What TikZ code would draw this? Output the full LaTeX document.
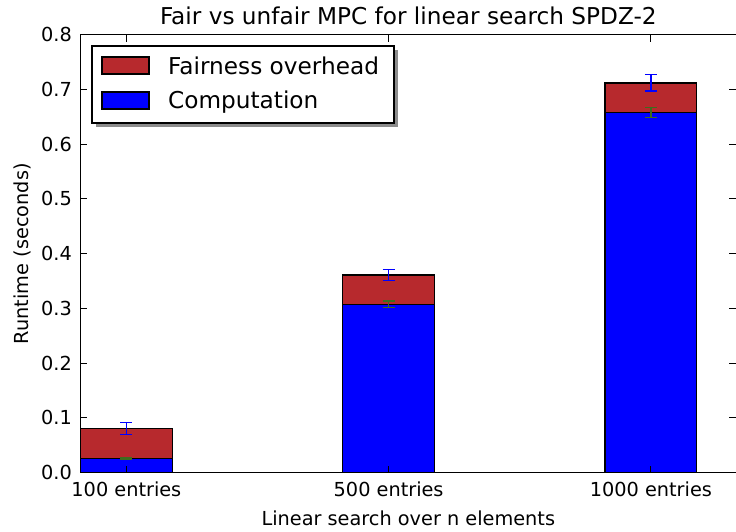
\documentclass[tikz,border=0pt]{standalone}
\usepackage{fontspec}
\setmainfont{DejaVu Sans}
\usepackage{tikz}
\usetikzlibrary{calc}
\definecolor{fairred}{RGB}{183,41,45}
\definecolor{compblue}{RGB}{0,0,255}
\definecolor{errgreen}{RGB}{62,108,30}
\newcommand{\ticksize}{\fontsize{19.3}{23}\selectfont}
\newcommand{\bigsize}{\fontsize{23.2}{28}\selectfont}

\begin{document}
\begin{tikzpicture}[
  x=262.25pt, y=547.5pt,
  spine/.style={line width=1.5pt, draw=black},
  tck/.style={line width=1pt, draw=black},
  barbox/.style={draw=black, line width=1.3pt},
  errbar/.style={line width=1.5pt},
  ticklab/.style={font=\ticksize, inner sep=0pt},
  leglab/.style={font=\bigsize, inner sep=0pt, anchor=base west},
]
  \useasboundingbox (-80.5pt,-58.3pt) rectangle (655.5pt,472.7pt);
  \coordinate (tl) at (0,0.8);
  % stacked bars: computation below, fairness overhead on top
  \foreach \i/\comp/\tot in {0/0.0256/0.0806, 1/0.3076/0.3611, 2/0.658/0.712} {
    \draw[barbox, fill=compblue] (\i,0) rectangle (\i+0.35,\comp);
    \draw[barbox, fill=fairred] (\i,\comp) rectangle (\i+0.35,\tot);
  }
  % error bars
  \foreach \c/\v/\e/\col in {0.175/0.0256/0.001/errgreen, 1.175/0.3076/0.006/errgreen,
                            2.175/0.658/0.009/errgreen, 0.175/0.0806/0.0107/compblue,
                            1.175/0.3611/0.0104/compblue, 2.175/0.712/0.0152/compblue} {
    \draw[errbar, draw=\col] (\c,\v-\e) -- (\c,\v+\e)
      (\c,\v-\e) ++(-6pt,0) -- ++(12pt,0)
      (\c,\v+\e) ++(-6pt,0) -- ++(12pt,0);
  }
  % ticks and tick labels
  \foreach \k in {0,...,8} {
    \draw[tck] (0,\k/10) -- ++(7pt,0);
    \draw[tck] (2.5,\k/10) -- ++(-7pt,0);
    \node[ticklab, anchor=east] (ytick\k) at ($(0,\k/10)+(-8.5pt,0)$) {0.\k};
  }
  \foreach \c/\lab [count=\n] in {0.175/100, 1.175/500, 2.175/1000} {
    \draw[tck] (\c,0) -- ++(0,7pt);
    \draw[tck] (\c,0.8) -- ++(0,-7pt);
    \node[ticklab, anchor=north] (xtick\n) at ($(\c,0)+(0,-9pt)$) {\lab{} entries};
  }
  % axes frame (right edge falls just past the page)
  \draw[spine] (0,0) rectangle (2.51,0.8);
  % labels
  \node[font=\bigsize, inner sep=0pt, anchor=base] (title) at ($(1.25,0.8)+(0,9.7pt)$)
    {Fair vs unfair MPC for linear search SPDZ-2};
  \node[font=\ticksize, inner sep=0pt, anchor=base] (xlab) at ($(1.25,0)+(0,-52.3pt)$)
    {Linear search over n elements};
  \node[font=\ticksize, inner sep=0pt, anchor=base, rotate=90] (ylab) at ($(0,0.4)+(-52pt,0)$)
    {Runtime (seconds)};
  % legend with shadow
  \fill[black!45] ($(tl)+(15.5pt,-15.3pt)$) rectangle ($(tl)+(317.5pt,-92.3pt)$);
  \draw[line width=1.3pt, fill=white] ($(tl)+(11.5pt,-11.3pt)$) rectangle ($(tl)+(313.5pt,-88.3pt)$);
  \draw[barbox, fill=fairred] ($(tl)+(21.5pt,-22.3pt)$) rectangle ($(tl)+(68.5pt,-39.3pt)$);
  \draw[barbox, fill=compblue] ($(tl)+(21.5pt,-57.3pt)$) rectangle ($(tl)+(68.5pt,-74.3pt)$);
  \node[leglab] (lfair) at ($(tl)+(87.5pt,-39.6pt)$) {Fairness overhead};
  \node[leglab] (lcomp) at ($(tl)+(87.5pt,-74.3pt)$) {Computation};
\end{tikzpicture}
\end{document}
